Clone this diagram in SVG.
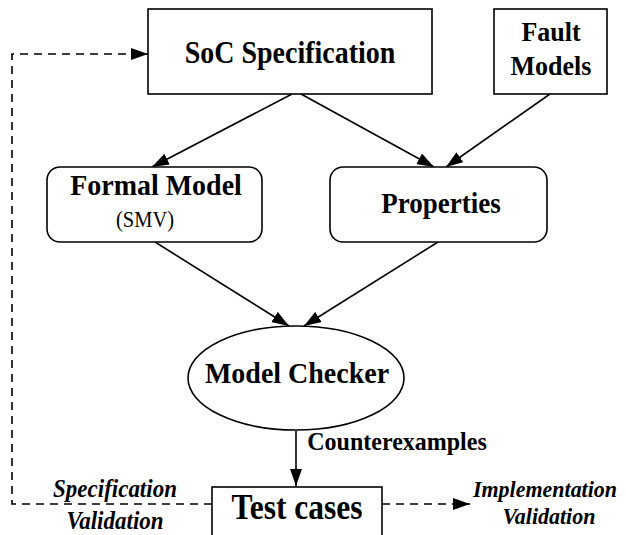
<svg xmlns="http://www.w3.org/2000/svg" width="626" height="535" viewBox="0 0 626 535">
<style>
  .box { fill: #ffffff; stroke: #000000; stroke-width: 1.6; }
  .edge { fill: none; stroke: #000000; stroke-width: 1.6; }
  .dash { fill: none; stroke: #000000; stroke-width: 1.6; stroke-dasharray: 8 6; }
  text { font-family: "Liberation Serif", "Times New Roman", serif; fill: #000000; text-anchor: middle; }
  .b { font-weight: bold; }
  .bi { font-weight: bold; font-style: italic; }
</style>
<defs>
  <marker id="arr" viewBox="0 0 17 12" refX="17" refY="6" markerWidth="17" markerHeight="12" markerUnits="userSpaceOnUse" orient="auto">
    <path d="M0,0 L17,6 L0,12 Z" fill="#000000"/>
  </marker>
</defs>
<rect width="626" height="535" fill="#ffffff"/>
<g id="connectors">
  <line class="edge" x1="292" y1="94" x2="152" y2="167" marker-end="url(#arr)"/>
  <line class="edge" x1="301" y1="94" x2="434" y2="167" marker-end="url(#arr)"/>
  <line class="edge" x1="550" y1="94" x2="446" y2="167" marker-end="url(#arr)"/>
  <line class="edge" x1="155" y1="242" x2="289" y2="326" marker-end="url(#arr)"/>
  <line class="edge" x1="438" y1="242" x2="304" y2="326" marker-end="url(#arr)"/>
  <line class="edge" x1="296" y1="431" x2="296" y2="486" marker-end="url(#arr)"/>
  <polyline class="dash" points="212,504 12,504 12,54 148,54" marker-end="url(#arr)"/>
  <line class="dash" x1="382" y1="504" x2="470" y2="504" marker-end="url(#arr)"/>
  <text class="b" transform="translate(397,450) scale(1,1.08)" font-size="24">Counterexamples</text>
  <text class="bi" transform="translate(115,497) scale(1,1.08)" font-size="23">Specification</text>
  <text class="bi" transform="translate(115,529) scale(1,1.08)" font-size="23">Validation</text>
  <text class="bi" transform="translate(545,497) scale(1,1.08)" font-size="22">Implementation</text>
  <text class="bi" transform="translate(549,524) scale(1,1.08)" font-size="22">Validation</text>
</g>
<g id="soc">
  <rect class="box" x="148" y="9" width="284" height="85"/>
  <text class="b" transform="translate(290,63) scale(1,1.1)" font-size="28">SoC Specification</text>
</g>
<g id="fault">
  <rect class="box" x="494" y="9" width="113" height="85"/>
  <text class="b" transform="translate(551,41) scale(1,1.08)" font-size="26">Fault</text>
  <text class="b" transform="translate(551,75) scale(1,1.08)" font-size="26">Models</text>
</g>
<g id="formal">
  <rect class="box" x="47" y="167" width="215" height="75" rx="13"/>
  <text class="b" transform="translate(156,195) scale(1,1.05)" font-size="28">Formal Model</text>
  <text transform="translate(145,227) scale(1,1.08)" font-size="20.5">(SMV)</text>
</g>
<g id="properties">
  <rect class="box" x="330" y="167" width="217" height="75" rx="13"/>
  <text class="b" transform="translate(441,213) scale(1,1.08)" font-size="27">Properties</text>
</g>
<g id="checker">
  <ellipse class="box" cx="296" cy="378" rx="108" ry="52"/>
  <text class="b" transform="translate(297,383) scale(1,1.08)" font-size="28">Model Checker</text>
</g>
<g id="testcases">
  <rect class="box" x="212" y="487" width="170" height="60"/>
  <text class="b" transform="translate(297,519) scale(1,1.15)" font-size="31.5">Test cases</text>
</g>
</svg>
